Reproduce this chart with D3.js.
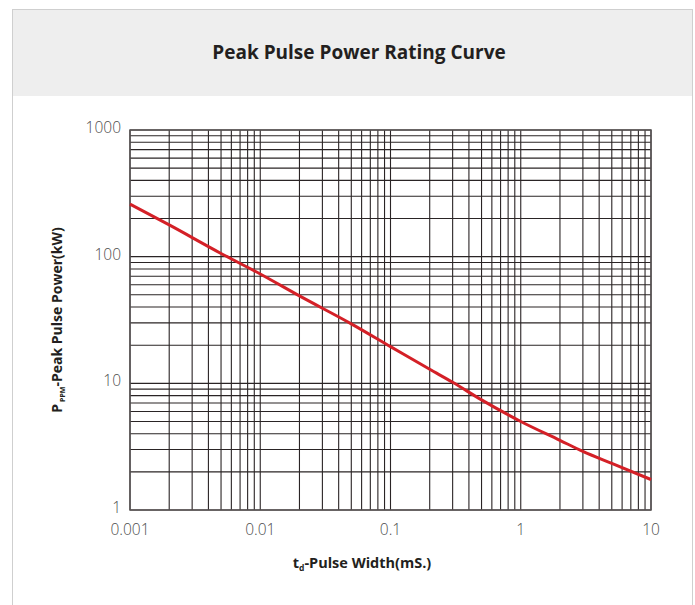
<!DOCTYPE html>
<html>
<head>
<meta charset="utf-8">
<script src="https://cdn.jsdelivr.net/npm/d3@7"></script>
<style>
  body { margin: 0; background: #fff; }
  svg { display: block; }
</style>
</head>
<body>
<div id="chart"></div>
<script>
// Data
var pulseWidth = [0.001, 0.002, 0.005, 0.01, 0.02, 0.05, 0.1, 0.2, 0.3, 0.5, 1, 2, 3, 5, 10];
var peakPower  = [260, 178, 106, 73, 49, 29.5, 19.5, 12.9, 10.2, 7.4, 5.0, 3.55, 2.9, 2.33, 1.74];

var xTicks = [0.001, 0.01, 0.1, 1, 10];
var xTickLabels = ["0.001", "0.01", "0.1", "1", "10"];
var yTicks = [1, 10, 100, 1000];
var yTickLabels = ["1", "10", "100", "1000"];

var titleText = "Peak Pulse Power Rating Curve";

var svgWidth = 695;
var svgHeight = 605;

var margin = { top: 130, right: 44, bottom: 95, left: 130 };
var width = svgWidth - margin.left - margin.right;
var height = svgHeight - margin.top - margin.bottom;

var svg = d3.select("#chart")
    .append("svg")
    .attr("width", svgWidth)
    .attr("height", svgHeight);

// panel frame and header band
svg.append("rect")
    .attr("x", 12.5).attr("y", 9.5)
    .attr("width", 680).attr("height", 620)
    .attr("fill", "#fff")
    .attr("stroke", "#cfcfcf");
svg.append("rect")
    .attr("x", 13).attr("y", 10)
    .attr("width", 679).attr("height", 86)
    .attr("fill", "#eeeeee");
svg.append("text")
    .attr("x", 359).attr("y", 59)
    .attr("text-anchor", "middle")
    .attr("font-family", "Open Sans, sans-serif")
    .attr("font-weight", 700)
    .attr("font-size", "19px")
    .attr("fill", "#231f20")
    .text(titleText);

var chartGroup = svg.append("g")
    .attr("transform", `translate(${margin.left}, ${margin.top})`);

// scales
var xLogScale = d3.scaleLog().domain([0.001, 10]).range([0, width]);
var yLogScale = d3.scaleLog().domain([1, 1000]).range([height, 0]);

// grid lines at 1..9 of every decade
var xGrid = xLogScale.ticks();
var yGrid = yLogScale.ticks();

chartGroup.append("g").selectAll("line")
    .data(xGrid)
    .enter()
    .append("line")
    .attr("x1", d => xLogScale(d))
    .attr("x2", d => xLogScale(d))
    .attr("y1", 0)
    .attr("y2", height)
    .attr("stroke", "#2a2425")
    .attr("stroke-width", 1.1);

chartGroup.append("g").selectAll("line")
    .data(yGrid)
    .enter()
    .append("line")
    .attr("x1", 0)
    .attr("x2", width)
    .attr("y1", d => yLogScale(d))
    .attr("y2", d => yLogScale(d))
    .attr("stroke", "#2a2425")
    .attr("stroke-width", 1.1);

// frame of the plot area
chartGroup.append("rect")
    .attr("width", width)
    .attr("height", height)
    .attr("fill", "none")
    .attr("stroke", "#5a5556")
    .attr("stroke-width", 1.5);

// tick labels
chartGroup.append("g").selectAll("text")
    .data(xTicks)
    .enter()
    .append("text")
    .attr("x", d => xLogScale(d))
    .attr("y", height + 25)
    .attr("text-anchor", "middle")
    .attr("font-family", "Open Sans, sans-serif")
    .attr("font-weight", 300)
    .attr("font-size", "15.5px")
    .attr("fill", "#4d4d4d")
    .text((d, i) => xTickLabels[i]);

chartGroup.append("g").selectAll("text")
    .data(yTicks)
    .enter()
    .append("text")
    .attr("x", -9)
    .attr("y", d => yLogScale(d) + 3)
    .attr("text-anchor", "end")
    .attr("font-family", "Open Sans, sans-serif")
    .attr("font-weight", 300)
    .attr("font-size", "15.5px")
    .attr("fill", "#4d4d4d")
    .text((d, i) => yTickLabels[i]);

// rating curve
var line = d3.line()
    .x((d, i) => xLogScale(pulseWidth[i]))
    .y(d => yLogScale(d))
    .curve(d3.curveMonotoneX);

chartGroup.append("path")
    .datum(peakPower)
    .attr("d", line)
    .attr("fill", "none")
    .attr("stroke", "#d42027")
    .attr("stroke-width", 3);

// axis titles
var xTitle = svg.append("text")
    .attr("x", 362).attr("y", 568)
    .attr("text-anchor", "middle")
    .attr("font-family", "Open Sans, sans-serif")
    .attr("font-weight", 700)
    .attr("font-size", "14.5px")
    .attr("fill", "#231f20");
xTitle.append("tspan").text("t");
xTitle.append("tspan").attr("font-size", "8.5px").attr("dy", 3).text("d");
xTitle.append("tspan").attr("dy", -3).text("-Pulse Width(mS.)");

var yTitle = svg.append("text")
    .attr("transform", `translate(62, ${margin.top + height / 2}) rotate(-90)`)
    .attr("text-anchor", "middle")
    .attr("font-family", "Open Sans, sans-serif")
    .attr("font-weight", 700)
    .attr("font-size", "14px")
    .attr("fill", "#231f20");
yTitle.append("tspan").text("P");
yTitle.append("tspan").attr("font-size", "7px").attr("dy", 3).attr("dx", 2).text("PPM");
yTitle.append("tspan").attr("dy", -3).text("-Peak Pulse Power(kW)");
</script>
</body>
</html>
